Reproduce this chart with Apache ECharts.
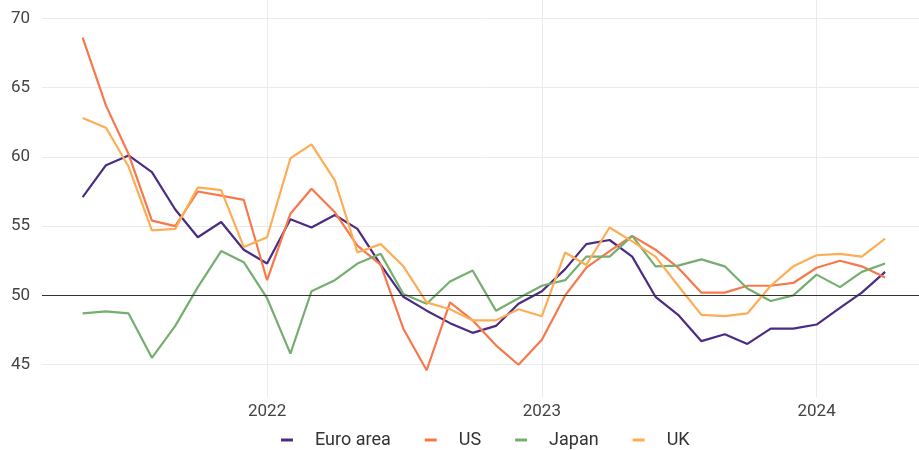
<!DOCTYPE html>
<html>
<head>
<meta charset="utf-8">
<script src="https://cdn.jsdelivr.net/npm/echarts@6/dist/echarts.min.js"></script>
<style>
  html, body { margin: 0; padding: 0; background: #fff; }
  #chart { width: 919px; height: 450px; }
</style>
</head>
<body>
<div id="chart"></div>
<script>
// monthly readings, May 2021 - Apr 2024
var months = [
    '2021-05', '2021-06', '2021-07', '2021-08', '2021-09', '2021-10', '2021-11', '2021-12',
    '2022-01', '2022-02', '2022-03', '2022-04', '2022-05', '2022-06', '2022-07', '2022-08',
    '2022-09', '2022-10', '2022-11', '2022-12', '2023-01', '2023-02', '2023-03', '2023-04',
    '2023-05', '2023-06', '2023-07', '2023-08', '2023-09', '2023-10', '2023-11', '2023-12',
    '2024-01', '2024-02', '2024-03', '2024-04'
];
var euroArea = [57.1, 59.4, 60.1, 58.9, 56.2, 54.2, 55.3, 53.3, 52.3, 55.5, 54.9, 55.8,
    54.8, 52.2, 49.9, 48.9, 48.0, 47.3, 47.8, 49.4, 50.3, 51.9, 53.7, 54.0,
    52.8, 49.9, 48.6, 46.7, 47.2, 46.5, 47.6, 47.6, 47.9, 49.1, 50.2, 51.7];
var us = [68.6, 63.7, 60.2, 55.4, 55.0, 57.5, 57.2, 56.9, 51.1, 55.9, 57.7, 56.0,
    53.6, 52.2, 47.6, 44.6, 49.5, 48.2, 46.4, 45.0, 46.8, 50.0, 52.0, 53.2,
    54.3, 53.3, 52.0, 50.2, 50.2, 50.7, 50.7, 50.9, 52.0, 52.5, 52.1, 51.3];
var japan = [48.7, 48.85, 48.7, 45.5, 47.8, 50.6, 53.2, 52.4, 49.8, 45.8, 50.3, 51.1,
    52.3, 53.0, 50.1, 49.4, 51.0, 51.8, 48.9, 49.8, 50.7, 51.1, 52.8, 52.8,
    54.3, 52.1, 52.15, 52.6, 52.1, 50.5, 49.6, 50.0, 51.5, 50.6, 51.7, 52.3];
var uk = [62.8, 62.1, 59.3, 54.7, 54.8, 57.8, 57.6, 53.5, 54.2, 59.9, 60.9, 58.3,
    53.1, 53.7, 52.1, 49.5, 49.0, 48.2, 48.2, 49.0, 48.5, 53.1, 52.2, 54.9,
    53.9, 52.8, 50.7, 48.6, 48.5, 48.7, 50.7, 52.1, 52.9, 53.0, 52.8, 54.1];
var yearTicks = ['2022', '2023', '2024'];
var threshold = 50;

function pairs(vals) {
    return vals.map(function (v, i) { return [months[i] + '-01', v]; });
}

var colors = ['#4b2c85', '#f7784a', '#76ae6f', '#fdad55'];
var fontFamily = 'Roboto, "Noto Sans", sans-serif';

var chart = echarts.init(document.getElementById('chart'));

var lineSeries = function (name, vals) {
    return {
        name: name,
        type: 'line',
        data: pairs(vals),
        showSymbol: false,
        symbol: 'none',
        clip: false,
        lineStyle: { width: 2.2 }
    };
};

var series = [
    lineSeries('Euro area', euroArea),
    lineSeries('US', us),
    lineSeries('Japan', japan),
    lineSeries('UK', uk)
];
// horizontal reference line at 50
series[0].markLine = {
    silent: true,
    symbol: 'none',
    label: { show: false },
    lineStyle: { color: '#333', width: 1, type: 'solid' },
    data: [{ yAxis: threshold }]
};

chart.setOption({
    animation: false,
    color: colors,
    textStyle: { fontFamily: fontFamily },
    grid: { left: 42, right: 0, top: 0, bottom: 53 },
    legend: {
        top: 426,
        left: 276,
        icon: 'rect',
        itemWidth: 12,
        itemHeight: 3,
        itemGap: 34,
        textStyle: { fontSize: 18, color: '#333', padding: [0, 0, 0, 17] },
        data: ['Euro area', 'US', 'Japan', 'UK']
    },
    xAxis: {
        type: 'time',
        min: '2021-03-08',
        max: '2024-05-16',
        minInterval: 365 * 24 * 3600 * 1000,
        axisLine: { show: false },
        axisTick: { show: false },
        axisLabel: {
            fontSize: 17,
            color: '#444',
            margin: 6,
            showMinLabel: false,
            showMaxLabel: false,
            formatter: function (val) {
                var y = String(new Date(val).getFullYear());
                return yearTicks.indexOf(y) >= 0 ? y : '';
            }
        },
        splitLine: {
            show: true,
            showMinLine: false,
            showMaxLine: false,
            lineStyle: { color: '#ebebeb', width: 1 }
        }
    },
    yAxis: {
        type: 'value',
        min: 42.67,
        max: 71.32,
        axisLine: { show: false },
        axisTick: { show: false },
        axisLabel: {
            fontSize: 17,
            color: '#444',
            margin: 12,
            showMinLabel: false,
            showMaxLabel: false
        },
        splitLine: {
            show: true,
            showMinLine: false,
            showMaxLine: false,
            lineStyle: { color: '#ebebeb', width: 1 }
        }
    },
    series: series
});
</script>
</body>
</html>
